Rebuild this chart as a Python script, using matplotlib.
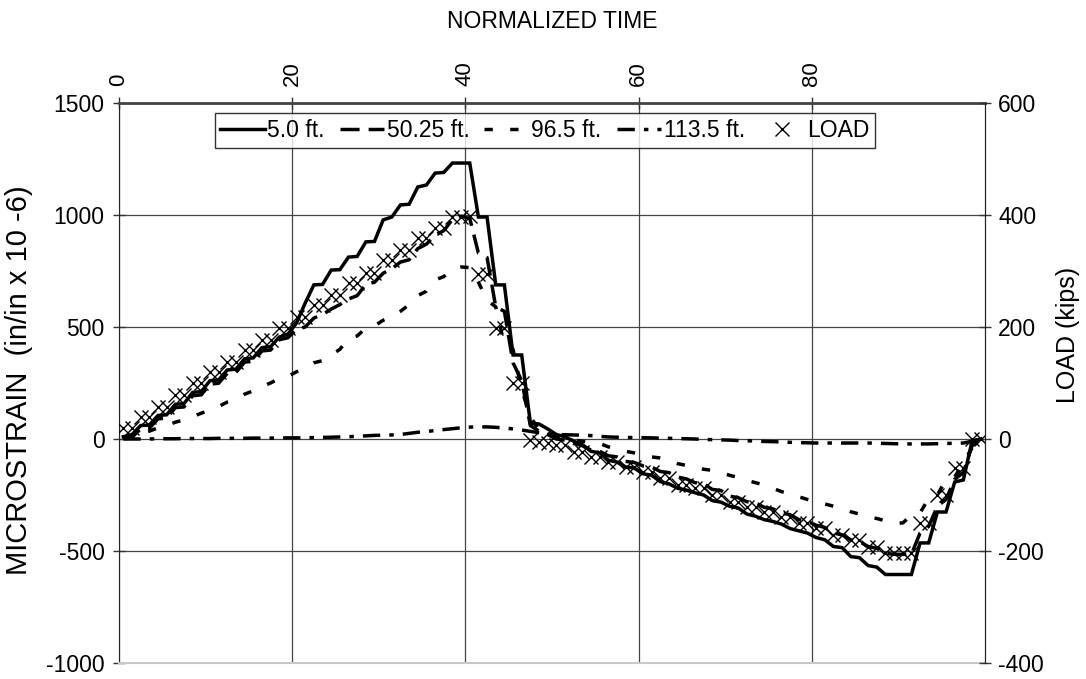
import numpy as np
import matplotlib
matplotlib.use("Agg")
import matplotlib.pyplot as plt

plt.rcParams['font.family'] = ['Liberation Sans', 'DejaVu Sans']

# Normalized time of each sample
time = np.arange(0.5, 100, 1.0)

strain_5_0 = [10, 20, 60, 62, 105, 108, 155, 158, 208, 212,
              260, 264, 308, 312, 358, 362, 408, 412, 455, 468,
              518, 607, 688, 690, 754, 756, 812, 815, 880, 882,
              978, 991, 1045, 1048, 1125, 1134, 1187, 1190, 1232, 1232,
              1232, 991, 991, 688, 688, 375, 375, 71, 67, 45,
              20, 10, -10, -25, -55, -62, -95, -103, -125, -130,
              -155, -162, -190, -200, -220, -228, -240, -250, -275, -282,
              -300, -308, -335, -345, -360, -368, -380, -400, -410, -420,
              -440, -450, -480, -485, -525, -530, -565, -572, -605, -605,
              -605, -605, -464, -464, -326, -326, -192, -183, -10, 0]

strain_50_25 = [5, 8, 45, 48, 90, 93, 140, 143, 193, 197,
                245, 249, 293, 297, 343, 347, 393, 397, 443, 452,
                490, 500, 540, 555, 580, 600, 625, 640, 690, 700,
                740, 760, 790, 800, 850, 870, 910, 930, 980, 995,
                985, 830, 810, 590, 570, 340, 260, 60, 35, 20,
                0, -5, -20, -30, -50, -55, -75, -80, -100, -105,
                -120, -125, -145, -150, -170, -178, -195, -200, -225, -230,
                -255, -262, -280, -285, -305, -312, -330, -338, -360, -368,
                -385, -395, -420, -428, -450, -458, -480, -488, -510, -515,
                -515, -515, -420, -390, -300, -270, -180, -150, -30, 0]

strain_96_5 = [5, 10, 25, 35, 50, 60, 75, 85, 100, 115,
               130, 145, 165, 175, 200, 215, 235, 250, 270, 280,
               300, 317, 340, 350, 375, 400, 450, 460, 495, 505,
               530, 545, 570, 600, 640, 660, 710, 725, 760, 768,
               765, 700, 620, 590, 420, 400, 220, 100, 40, 20,
               10, 0, -5, -10, -15, -20, -35, -45, -55, -62,
               -70, -80, -85, -95, -110, -118, -125, -135, -140, -150,
               -162, -172, -185, -195, -205, -220, -235, -245, -258, -270,
               -280, -290, -300, -310, -325, -335, -348, -355, -365, -375,
               -375, -340, -330, -265, -250, -180, -170, -105, -40, 0]

strain_113_5 = [0, 0, 0, 0, 1, 1, 1, 2, 2, 2,
                2, 3, 3, 3, 3, 4, 4, 4, 5, 5,
                5, 6, 6, 7, 8, 9, 10, 12, 14, 16,
                17, 18, 20, 25, 30, 33, 38, 42, 46, 50,
                53, 54, 54, 52, 49, 45, 40, 34, 28, 24,
                20, 19, 18, 17, 15, 12, 9, 8, 7, 6,
                6, 5, 4, 3, 2, 1, 0, -2, -3, -4,
                -5, -7, -8, -9, -11, -12, -13, -15, -16, -17,
                -18, -18, -18, -18, -18, -18, -18, -19, -20, -21,
                -22, -22, -22, -22, -21, -20, -19, -18, -10, 0]

load_kips = [20, 20, 39, 39, 57, 57, 78, 78, 100, 100,
             120, 120, 138, 138, 159, 159, 177, 177, 198, 198,
             218, 218, 239, 239, 257, 257, 278, 278, 296, 296,
             320, 320, 338, 338, 359, 359, 377, 377, 396, 396,
             398, 295, 295, 198, 198, 100, 100, -2, -5, -7,
             -11, -11, -23, -23, -32, -32, -41, -41, -50, -50,
             -59, -59, -70, -70, -82, -82, -88, -88, -100, -100,
             -112, -112, -121, -121, -130, -130, -139, -139, -150, -150,
             -159, -159, -171, -171, -180, -180, -193, -193, -203, -203,
             -203, -203, -150, -150, -100, -100, -52, -52, 0, 0]

series_labels = ["5.0 ft.", "50.25 ft.", "96.5 ft.", "113.5 ft.", "LOAD"]
x_ticks = [0, 20, 40, 60, 80]
left_ticks = [-1000, -500, 0, 500, 1000, 1500]
right_ticks = [-400, -200, 0, 200, 400, 600]

FS = 16.5
LW = 2.5

fig = plt.figure(figsize=(10.86, 6.79), dpi=100)
ax = fig.add_axes([0.1096, 0.0236, 0.7974, 0.8247])
ax.set_xlim(0, 100)
ax.set_ylim(-1000, 1500)
ax.set_yticks(left_ticks)
ax.set_yticklabels([str(v) for v in left_ticks], fontsize=FS)
ax.xaxis.tick_top()
ax.xaxis.set_label_position('top')
ax.set_xticks(x_ticks)
ax.set_xticklabels([str(v) for v in x_ticks], rotation=90, fontsize=16)
ax.grid(True, color='#444444', lw=0.9)
ax.set_axisbelow(True)
ax.tick_params(axis='both', direction='inout', length=9, width=1.0, color='#333333')
ax.tick_params(axis='y', pad=6)
ax.tick_params(axis='x', pad=8, bottom=False, labelbottom=False)
for s in ['left', 'right']:
    ax.spines[s].set_color('#222222')
ax.spines['top'].set_color('#444444')
ax.spines['top'].set_linewidth(2.0)
ax.spines['bottom'].set_color('#c8c8c8')
ax.spines['bottom'].set_linewidth(1.5)

ax.set_xlabel("NORMALIZED TIME", fontsize=FS, labelpad=24)
ax.set_ylabel("MICROSTRAIN  (in/in x 10 -6)", fontsize=21)
ax.yaxis.set_label_coords(-0.099, 0.505)

l1, = ax.plot(time, strain_5_0, color='black', lw=LW, solid_joinstyle='miter')
l2, = ax.plot(time, strain_50_25, color='black', lw=LW, dashes=(5.5, 2.6))
l3, = ax.plot(time, strain_96_5, color='black', lw=LW, dashes=(2.4, 5.0))
l4, = ax.plot(time, strain_113_5, color='black', lw=LW, dashes=(5.0, 2.6, 1.3, 2.6))

ax2 = ax.twinx()
ax2.set_ylim(-400, 600)
ax2.set_yticks(right_ticks)
ax2.set_yticklabels([str(v) for v in right_ticks], fontsize=FS)
ax2.tick_params(axis='y', direction='inout', length=9, width=1.0, color='#333333', pad=5)
ax2.set_ylabel("LOAD (kips)", fontsize=18, rotation=90)
ax2.yaxis.set_label_coords(1.082, 0.585)
for s in ['top', 'bottom', 'left']:
    ax2.spines[s].set_visible(False)
ax2.spines['right'].set_color('#222222')
l5, = ax2.plot(time, load_kips, linestyle='none', marker='x', markersize=10,
               markeredgewidth=1.0, color='black')

leg = ax2.legend([l1, l2, l3, l4, l5], series_labels, loc='upper center',
                 bbox_to_anchor=(0.4915, 0.982), ncol=5,
                 prop={'size': FS},
                 frameon=True, fancybox=False, edgecolor='black',
                 handlelength=1.95, handletextpad=0.1, columnspacing=0.65,
                 borderpad=0.25, borderaxespad=0.0)
leg.get_frame().set_linewidth(1.0)

fig.savefig("out.png", dpi=100)
